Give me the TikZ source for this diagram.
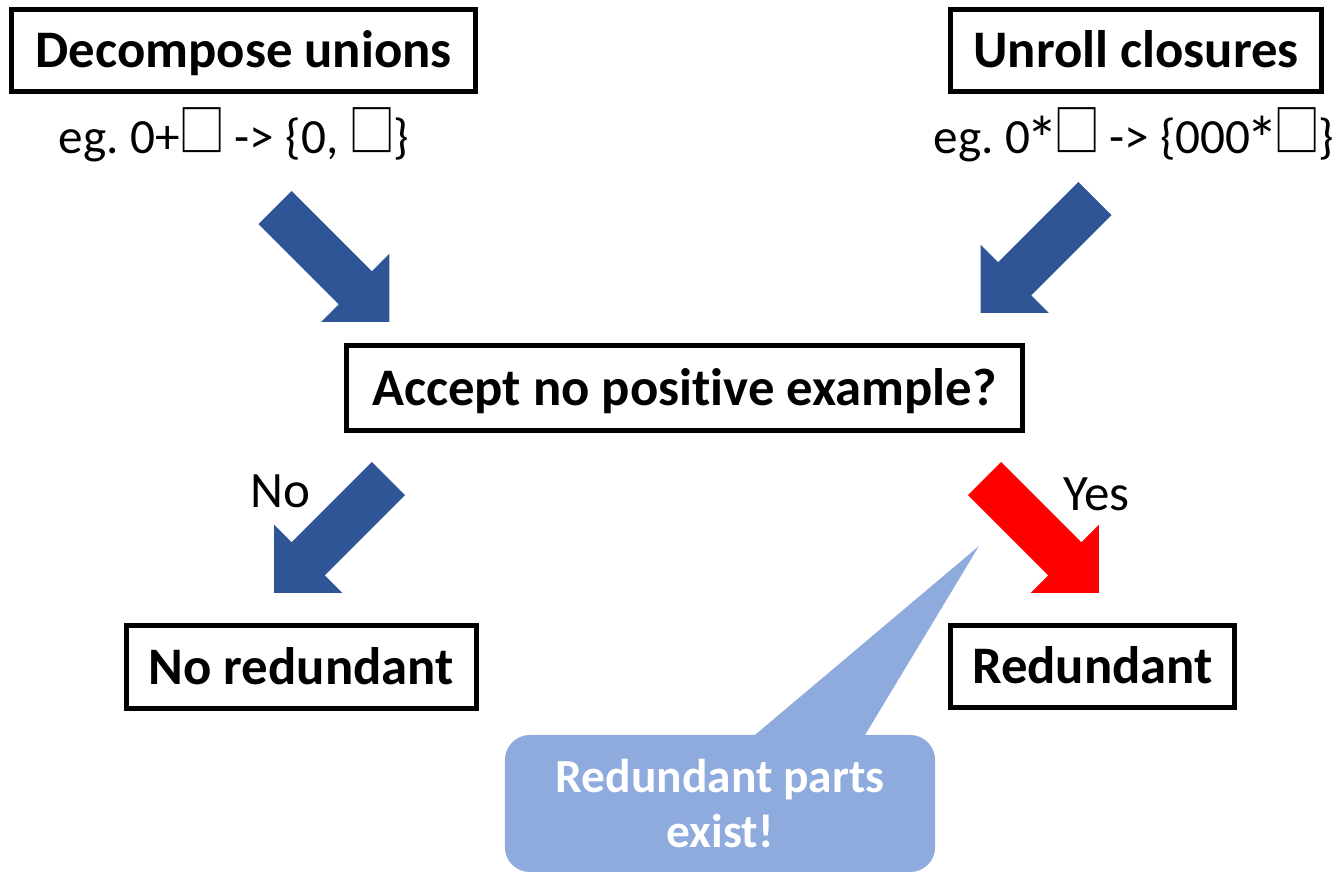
\documentclass[tikz,border=0pt]{standalone}
\usepackage{fontspec}
\setmainfont{Carlito}[Ligatures=NoCommon]
\newfontfamily\boxglyph{Noto Sans CJK SC}
\frenchspacing
\definecolor{arrowblue}{HTML}{2F5597}
\definecolor{arrowred}{HTML}{FF0000}
\definecolor{calloutblue}{HTML}{8FAADC}
% placeholder square used in the rewriting examples
\newcommand{\hole}{{\kern-0.2pt\raisebox{0.3pt}{\scalebox{0.84}[1]{\boxglyph\fontsize{16}{16}\selectfont □}}\kern-0.7pt}}
% Kleene star, set larger and lower than the plain glyph
\newcommand{\kstar}{{\kern-1.1pt\raisebox{-2.4pt}{\scalebox{1.3}{*}}\kern-1.1pt}}
% thick block arrow: fill colour, tail centre, direction angle
\newcommand{\blockarrow}[3]{%
  \fill[#1, shift={#2}, rotate=#3]
    (0,-23.5) -- (113.6,-23.5) -- (113.6,-48) -- (161.6,0)
    -- (113.6,48) -- (113.6,23.5) -- (0,23.5) -- cycle;}
\tikzset{
  stepbox/.style={draw=black, line width=0.05cm, inner sep=0pt,
    font=\fontsize{15}{18}\selectfont\bfseries, text height=9.7pt, text depth=0pt},
  note/.style={font=\fontsize{14.5}{17}\selectfont, inner sep=0pt, anchor=base},
  example/.style={note, font=\fontsize{14}{17}\selectfont},
  bubble/.style={fill=calloutblue, rounded corners=0.25cm, inner sep=0pt,
    text=white, align=center,
    font=\fontsize{13.5}{15.9}\selectfont\bfseries},
}
\begin{document}
\begin{tikzpicture}[x=0.01cm, y=-0.01cm]
\useasboundingbox (0,0) rectangle (1338,872);

% rule boxes
\node[stepbox, minimum width=4.635cm, minimum height=0.81cm] (decomp) at (243.75,50.5) {Decompose unions};
\node[stepbox, minimum width=3.70cm, minimum height=0.81cm] (unroll) at (1136,50.5) {Unroll closures};
\node[stepbox, minimum width=6.76cm, minimum height=0.845cm] (accept) at (684.5,388.25) {Accept no positive example?};
\node[stepbox, minimum width=3.495cm, minimum height=0.82cm] (noredund) at (301.25,667) {No redundant};
\node[stepbox, minimum width=2.83cm, minimum height=0.815cm] (redund) at (1092.5,666.75) {Redundant};

% examples
\node[example] (egunion) at (234,153) {eg. 0+\hole{} -> \{0, \hole\}};
\node[example] (egstar) at (1134,153) {eg. 0\kstar\hole{} -> \{000\kstar\hole\}};

% branch labels
\node[note] (nolabel) at (280.5,507) {No};
\node[note] (yeslabel) at (1096.5,510) {Yes};

% block arrows
\coordinate (tailA) at (275,207.5);
\coordinate (tailB) at (1095,198.5);
\coordinate (tailC) at (388.5,478.5);
\coordinate (tailD) at (984.5,478.5);
\blockarrow{arrowblue}{(tailA)}{-45}
\blockarrow{arrowblue}{(tailB)}{-135}
\blockarrow{arrowblue}{(tailC)}{-135}
\blockarrow{arrowred}{(tailD)}{-45}

% callout
\coordinate (calltip) at (979,546);
\fill[calloutblue] (749,740) -- (calltip) -- (862,740) -- cycle;
\node[bubble, minimum width=4.30cm, minimum height=1.37cm] (callout) at (720,803.5) {Redundant parts\\exist!};
\end{tikzpicture}
\end{document}
